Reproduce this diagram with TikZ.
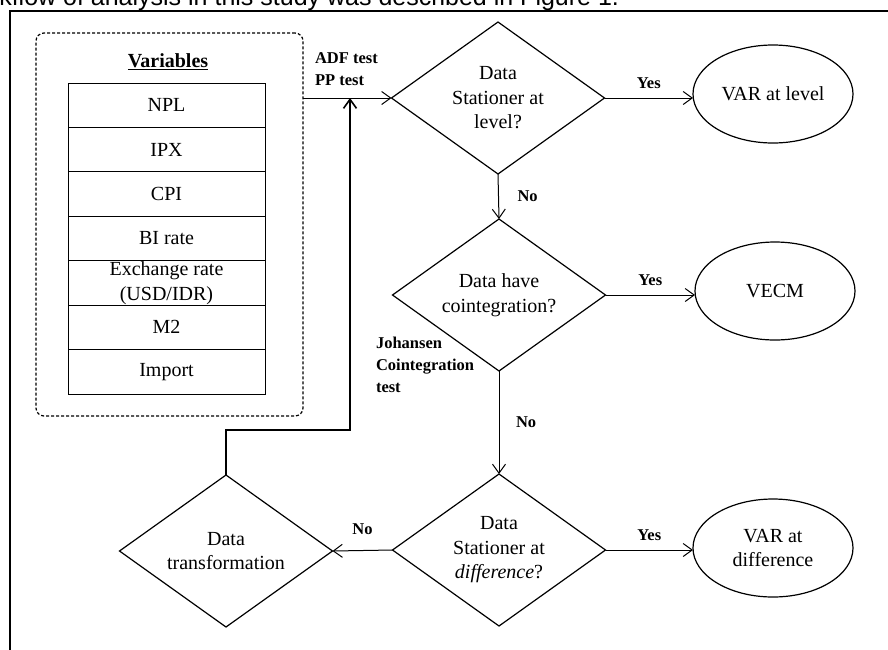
\documentclass[tikz,border=0pt]{standalone}
\usepackage{fontspec}
\setmainfont{Liberation Serif}
\newfontfamily\arialfont{Liberation Sans}
\usetikzlibrary{shapes.geometric,arrows.meta,calc}

\begin{document}
\begin{tikzpicture}[x=1pt,y=-1pt,
  every node/.style={inner sep=0pt, outer sep=0pt},
  txt/.style={font=\fontsize{20}{24.5}\selectfont},
  lbl/.style={font=\bfseries\fontsize{16.5}{22}\selectfont, align=left},
  dec/.style={diamond, draw, aspect=1.4, line width=1.2pt, minimum width=213pt, minimum height=152pt, align=center, txt},
  ell/.style={ellipse, draw, line width=1.2pt, minimum width=160pt, minimum height=98pt, align=center, txt},
  varbox/.style={rectangle, draw, line width=1pt, minimum width=197pt, minimum height=44.43pt, align=center, txt},
  arr/.style={-{Straight Barb[length=9pt,width=13pt]}, line width=1pt},
  fbl/.style={-{Straight Barb[length=9pt,width=13pt]}, line width=1.6pt},
  frame/.style={line width=2pt}
]
\useasboundingbox (0,0) rectangle (888,649);
\clip (0,0) rectangle (888,649);

% cut-off text line above the figure
\node[anchor=base east, font=\arialfont\fontsize{25}{30}\selectfont] (intro) at (619,5) {kflow of analysis in this study was described in Figure 1.};

% frame
\coordinate (frTR) at (892,11);
\coordinate (frTL) at (10,11);
\coordinate (frBL) at (10,653);
\draw[frame] (frTR) -- (frTL) -- (frBL);

% variables group
\node[draw, dashed, dash pattern=on 3pt off 2pt, rounded corners=8pt, line width=1.2pt,
      minimum width=267pt, minimum height=383pt] (varsbox) at (169.5,224.5) {};
\node[anchor=base, font=\bfseries\fontsize{20}{24}\selectfont] (varlabel) at (168,67) {\underline{Variables}};
\foreach \t [count=\i] in {NPL,IPX,CPI,BI rate,{Exchange rate\\(USD/IDR)},M2,Import}{
  \node[varbox] (v\i) at (166.5,{83+44.43*(\i-0.5)}) {\t};
}

% decisions
\node[dec] (d1) at (498,98) {Data\\Stationer at\\level?};
\node[dec] (d2) at (499,295) {Data have\\cointegration?};
\node[dec] (d3) at (499,550) {Data\\Stationer at\\\textit{difference}?};
\node[dec] (d4) at (226,551) {Data\\transformation};

% outcomes
\node[ell] (e1) at (773,94) {VAR at level};
\node[ell] (e2) at (775,291) {VECM};
\node[ell] (e3) at (773,548) {VAR at\\difference};

% labels
\node[lbl, anchor=north west] (adf) at (315,53) {ADF test\\PP test};
\node[lbl, anchor=north west] (joh) at (376,337) {Johansen\\Cointegration\\test};

% connectors
\draw[arr] (varsbox.east |- d1.west) -- (d1.west);
\draw[arr] (d1.east) -- node[lbl, above=9pt] (y1) {Yes} (e1.west |- d1.east);
\draw[arr] (d2.east) -- node[lbl, above=9pt] (y2) {Yes} (e2.west |- d2.east);
\draw[arr] (d3.east) -- node[lbl, above=9pt] (y3) {Yes} (e3.west |- d3.east);
\draw[arr] (d1.south) -- node[lbl, right=19pt] (n1) {No} (d2.north);
\draw[arr] (d2.south) -- node[lbl, right=17pt] (n2) {No} (d3.north);
\draw[arr] (d3.west) -- node[lbl, above=16pt] (n3) {No} (d4.east);
\coordinate (fbc) at (350,430);
\draw[fbl] (d4.north) |- (fbc) -- (fbc |- d1.west);
\end{tikzpicture}
\end{document}
